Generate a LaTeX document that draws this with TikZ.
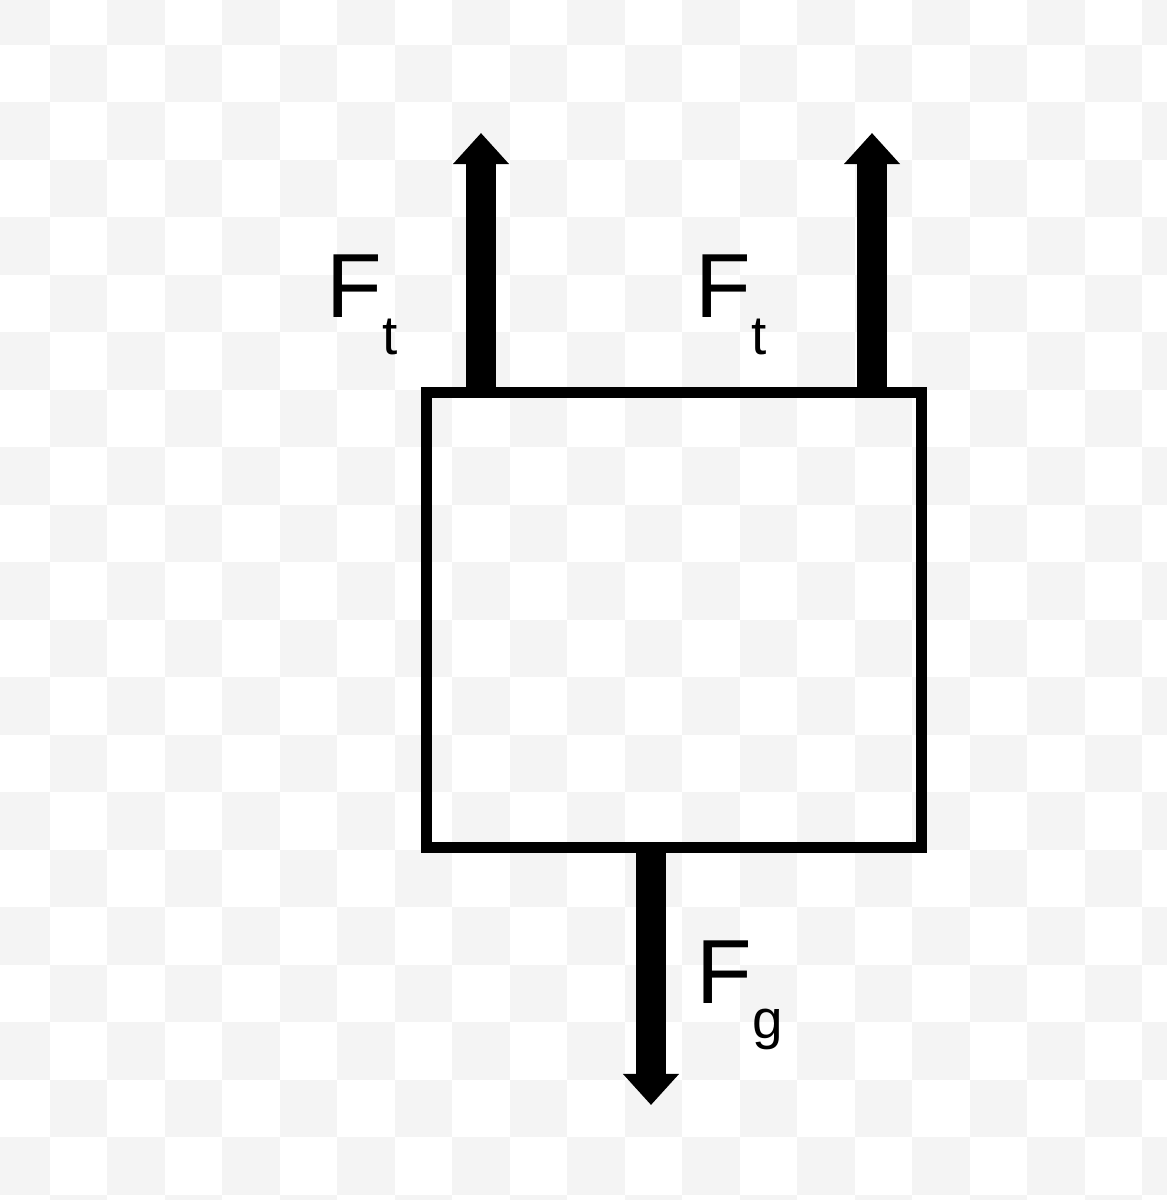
\documentclass[tikz,border=0pt]{standalone}
\usepackage{fontspec}
\setmainfont{Liberation Sans}
\usepackage{tikz}
\usetikzlibrary{positioning, arrows.meta}
\definecolor{checker}{RGB}{244,244,244}

\begin{document}
\begin{tikzpicture}[
    x=0.01cm, y=-0.01cm,
    box/.style={rectangle, draw, line width=0.11cm, minimum width=4.94cm, minimum height=4.54cm, inner sep=0pt},
    force_arrow/.style={-{Triangle[width=0.54cm, length=0.31cm]}, line width=0.3cm},
    label_style/.style={anchor=base west, inner sep=0pt, font=\fontsize{25.9}{26}\selectfont},
    sub/.style={}
]
    % Hintergrund
    \useasboundingbox (0,0) rectangle (1167,1200);
    \fill[white] (0,0) rectangle (1167,1200);
    \begin{scope}
        \clip (0,0) rectangle (1167,1200);
        \foreach \i in {0,...,20} {
            \foreach \j in {0,...,21} {
                \ifodd\numexpr\i+\j\relax\else
                    \fill[checker] ({-8+57.5*\i},{-13+57.5*\j}) rectangle +(57.5,57.5);
                \fi
            }
        }
    \end{scope}

    % Koerper
    \node[box] (block) at (674,620) {};

    % Kraftpfeile
    \coordinate (ft_left_tip) at (481,133);
    \coordinate (ft_right_tip) at (872,133);
    \coordinate (fg_tip) at (651,1105);
    \draw[force_arrow] (ft_left_tip |- block.north) -- (ft_left_tip);
    \draw[force_arrow] (ft_right_tip |- block.north) -- (ft_right_tip);
    \draw[force_arrow] (fg_tip |- block.south) -- (fg_tip);

    % Beschriftungen
    \node[label_style] (ft_left) at (326,317) {F\raisebox{-10.8pt}{\fontsize{15.6}{16}\selectfont t}};
    \node[label_style] (ft_right) at (695,317) {F\raisebox{-10.8pt}{\fontsize{15.6}{16}\selectfont t}};
    \node[label_style] (fg) at (696,1003) {F\raisebox{-10pt}{\fontsize{15.6}{16}\selectfont g}};
\end{tikzpicture}
\end{document}
